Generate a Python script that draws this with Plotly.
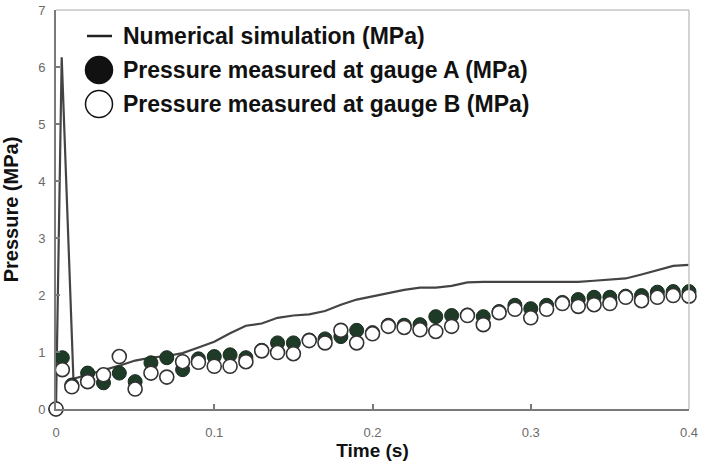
import plotly.graph_objects as go

# ---- data ----
line_x = [0, 0.0036, 0.011, 0.02, 0.03, 0.04, 0.05, 0.06, 0.07, 0.08, 0.09, 0.10,
          0.11, 0.12, 0.13, 0.14, 0.15, 0.16, 0.17, 0.18, 0.19, 0.20, 0.21, 0.22,
          0.23, 0.24, 0.25, 0.26, 0.27, 0.28, 0.29, 0.30, 0.31, 0.32, 0.33, 0.34,
          0.35, 0.36, 0.37, 0.38, 0.39, 0.40]
line_y = [0, 6.17, 0.53, 0.60, 0.68, 0.76, 0.85, 0.90, 0.93, 0.98, 1.08, 1.18,
          1.33, 1.46, 1.50, 1.60, 1.64, 1.66, 1.72, 1.83, 1.92, 1.98, 2.04, 2.09,
          2.13, 2.13, 2.16, 2.22, 2.23, 2.23, 2.23, 2.23, 2.23, 2.23, 2.23, 2.25,
          2.27, 2.29, 2.36, 2.44, 2.51, 2.53]

pt_x = [0, 0.004, 0.01, 0.02, 0.03, 0.04, 0.05, 0.06, 0.07, 0.08, 0.09, 0.10,
        0.11, 0.12, 0.13, 0.14, 0.15, 0.16, 0.17, 0.18, 0.19, 0.20, 0.21, 0.22,
        0.23, 0.24, 0.25, 0.26, 0.27, 0.28, 0.29, 0.30, 0.31, 0.32, 0.33, 0.34,
        0.35, 0.36, 0.37, 0.38, 0.39, 0.40]
filled_y = [0, 0.90, 0.42, 0.63, 0.46, 0.63, 0.48, 0.81, 0.90, 0.69, 0.88, 0.92,
            0.95, 0.90, 1.03, 1.16, 1.16, 1.21, 1.23, 1.27, 1.38, 1.34, 1.47, 1.47,
            1.48, 1.62, 1.64, 1.65, 1.62, 1.71, 1.82, 1.76, 1.82, 1.87, 1.92, 1.96,
            1.96, 1.98, 1.99, 2.05, 2.06, 2.06]
open_y = [0, 0.69, 0.39, 0.48, 0.60, 0.92, 0.35, 0.63, 0.56, 0.83, 0.82, 0.75,
          0.75, 0.83, 1.02, 0.99, 0.97, 1.20, 1.16, 1.38, 1.16, 1.32, 1.45, 1.43,
          1.39, 1.36, 1.45, 1.64, 1.48, 1.69, 1.75, 1.60, 1.75, 1.85, 1.80, 1.83,
          1.85, 1.96, 1.90, 1.96, 1.99, 1.98]

x_ticks = [0, 0.1, 0.2, 0.3, 0.4]
x_tick_text = ["0", "0.1", "0.2", "0.3", "0.4"]
y_ticks = [0, 1, 2, 3, 4, 5, 6, 7]

legend_labels = ["Numerical simulation (MPa)",
                 "Pressure measured at gauge A (MPa)",
                 "Pressure measured at gauge B (MPa)"]
x_title = "Time (s)"
y_title = "Pressure (MPa)"

# ---- layout geometry (pixels) ----
W, H = 701, 463
L, R, T, B = 56, 689, 10, 409

def px(xp):
    return (xp - L) / (R - L)

def py(yp):
    return (B - yp) / (B - T)

fig = go.Figure()
fig.add_trace(go.Scatter(x=line_x, y=line_y, mode="lines",
                         line=dict(color="#444444", width=2.2),
                         showlegend=False))
fig.add_trace(go.Scatter(x=pt_x, y=filled_y, mode="markers",
                         marker=dict(size=14, color="#1e3b27",
                                     line=dict(color="#1a2a1e", width=1)),
                         showlegend=False, cliponaxis=False))
fig.add_trace(go.Scatter(x=pt_x, y=open_y, mode="markers",
                         marker=dict(size=14, color="white",
                                     line=dict(color="#333333", width=1.6)),
                         showlegend=False, cliponaxis=False))

shapes = []
# top and right frame lines
shapes.append(dict(type="line", xref="paper", yref="paper", x0=0, x1=1, y0=1, y1=1,
                   line=dict(color="#c4c4c4", width=1.5)))
shapes.append(dict(type="line", xref="paper", yref="paper", x0=1, x1=1, y0=0, y1=1,
                   line=dict(color="#c4c4c4", width=1.5)))
# legend symbols
shapes.append(dict(type="line", xref="paper", yref="paper",
                   x0=px(87), x1=px(112), y0=py(36), y1=py(36),
                   line=dict(color="#222222", width=2.5)))
for cy, fill in [(70, "#111111"), (104, "white")]:
    shapes.append(dict(type="circle", xref="paper", yref="paper",
                       xsizemode="pixel", ysizemode="pixel",
                       xanchor=px(99), yanchor=py(cy),
                       x0=-13.5, x1=13.5, y0=-13.5, y1=13.5,
                       fillcolor=fill, line=dict(color="#111111", width=1.5)))

annotations = []
for lab, cy in zip(legend_labels, [36, 70, 104]):
    annotations.append(dict(text=lab, xref="paper", yref="paper",
                            x=px(121), y=py(cy), xanchor="left", yanchor="middle",
                            showarrow=False,
                            font=dict(family="Liberation Sans Narrow, Liberation Sans, Arial",
                                      size=23, color="#111111", weight="bold")))

tickfont = dict(family="Liberation Sans, Arial", size=13, color="#6a6a6a")
titlefont = dict(family="Liberation Sans Narrow, Liberation Sans", size=19,
                 color="#111111", weight="bold")

fig.update_layout(
    width=W, height=H,
    margin=dict(l=L, r=W - R, t=T, b=H - B, autoexpand=False),
    paper_bgcolor="white", plot_bgcolor="white",
    shapes=shapes, annotations=annotations,
    showlegend=False,
    xaxis=dict(range=[0, 0.4], tickvals=x_ticks, ticktext=x_tick_text,
               automargin=False,
               showgrid=False, zeroline=False, showline=True,
               linecolor="#7a7a7a", linewidth=2, ticks="inside", ticklen=5,
               tickcolor="#7a7a7a", tickwidth=1.5, ticklabelstandoff=10,
               tickfont=tickfont,
               title=dict(text=x_title, standoff=1, font=titlefont)),
    yaxis=dict(range=[0, 7], tickvals=y_ticks,
               automargin=False,
               showgrid=False, zeroline=False, showline=True,
               linecolor="#7a7a7a", linewidth=2, ticks="inside", ticklen=4,
               tickcolor="#7a7a7a", tickwidth=1.5, ticklabelstandoff=6,
               tickfont=tickfont,
               title=dict(text=y_title, standoff=14,
                          font=dict(family="Liberation Sans Narrow, Liberation Sans",
                                    size=20, color="#111111", weight="bold"))),
)

fig.write_html("out.html")
